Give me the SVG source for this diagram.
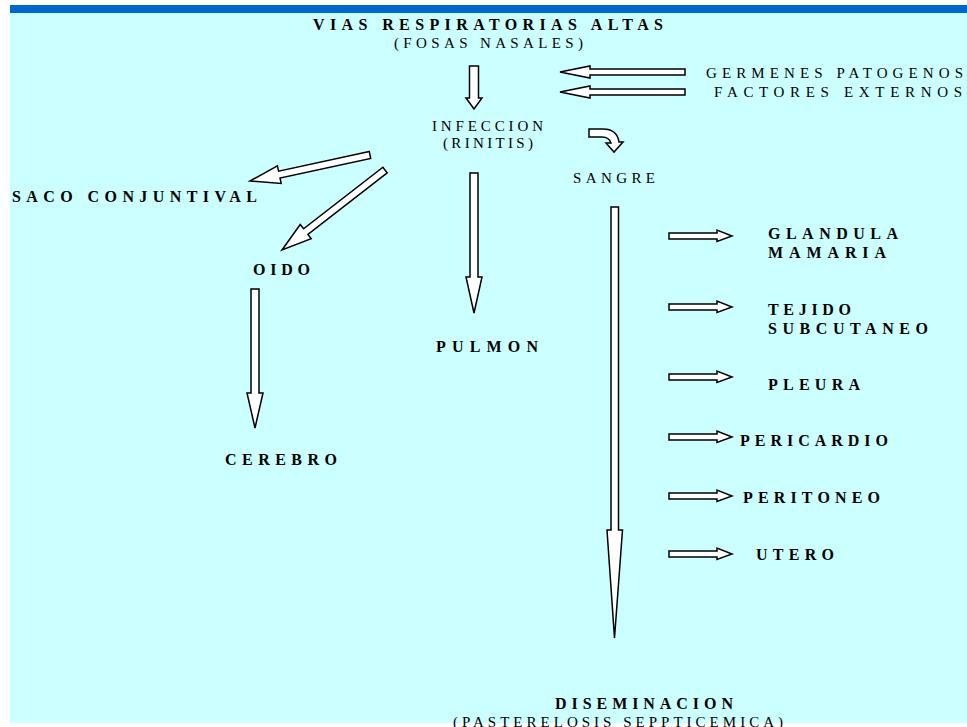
<svg xmlns="http://www.w3.org/2000/svg" width="967" height="727" viewBox="0 0 967 727">
<style>
.b{font-family:"Liberation Serif","Times New Roman",serif;font-weight:bold;font-size:16px;fill:#000}
.r{font-family:"Liberation Serif","Times New Roman",serif;font-size:15px;fill:#000}
.ar{fill:#fff;stroke:#000;stroke-width:1.5;stroke-linejoin:miter}
</style>
<rect x="0" y="0" width="967" height="727" fill="#fff"/>
<rect x="10" y="5" width="957" height="718" fill="#ccffff"/>
<rect x="10" y="5" width="957" height="8" fill="#0066cc"/>

<g id="vias">
<text class="b" x="313" y="30" textLength="350" lengthAdjust="spacing">VIAS RESPIRATORIAS ALTAS</text>
<text class="r" x="394" y="48" textLength="189" lengthAdjust="spacing">(FOSAS NASALES)</text>
</g>
<g id="germenes">
<text class="r" x="706" y="78" textLength="257" lengthAdjust="spacing">GERMENES PATOGENOS</text>
<text class="r" x="714" y="97" textLength="248" lengthAdjust="spacing">FACTORES EXTERNOS</text>
</g>
<g id="infeccion">
<text class="r" x="432" y="131" textLength="111" lengthAdjust="spacing">INFECCION</text>
<text class="r" x="443" y="148" textLength="90" lengthAdjust="spacing">(RINITIS)</text>
</g>
<g id="sangre"><text class="r" x="573" y="183" textLength="82" lengthAdjust="spacing">SANGRE</text></g>
<g id="saco"><text class="b" x="12" y="202" textLength="245" lengthAdjust="spacing">SACO CONJUNTIVAL</text></g>
<g id="oido"><text class="b" x="253" y="275" textLength="57" lengthAdjust="spacing">OIDO</text></g>
<g id="pulmon"><text class="b" x="436" y="352" textLength="102" lengthAdjust="spacing">PULMON</text></g>
<g id="cerebro"><text class="b" x="225" y="465" textLength="112" lengthAdjust="spacing">CEREBRO</text></g>
<g id="glandula">
<text class="b" x="768" y="239" textLength="130" lengthAdjust="spacing">GLANDULA</text>
<text class="b" x="768" y="258" textLength="118" lengthAdjust="spacing">MAMARIA</text>
</g>
<g id="tejido">
<text class="b" x="768" y="315" textLength="83" lengthAdjust="spacing">TEJIDO</text>
<text class="b" x="768" y="334" textLength="160" lengthAdjust="spacing">SUBCUTANEO</text>
</g>
<g id="pleura"><text class="b" x="768" y="390" textLength="92" lengthAdjust="spacing">PLEURA</text></g>
<g id="pericardio"><text class="b" x="740" y="446" textLength="148" lengthAdjust="spacing">PERICARDIO</text></g>
<g id="peritoneo"><text class="b" x="743" y="503" textLength="137" lengthAdjust="spacing">PERITONEO</text></g>
<g id="utero"><text class="b" x="756" y="560" textLength="78" lengthAdjust="spacing">UTERO</text></g>
<g id="diseminacion">
<text class="b" x="555" y="709" textLength="178" lengthAdjust="spacing">DISEMINACION</text>
<text class="r" x="453" y="727" textLength="330" lengthAdjust="spacing">(PASTERELOSIS SEPPTICEMICA)</text>
</g>

<g id="connectors">
<polygon class="ar" points="469.5,66 478.5,66 478.5,98 482,98 474,109 466,98 469.5,98"/>
<polygon class="ar" points="685,69 590,69 590,66 560,72 590,78 590,75 685,75"/>
<polygon class="ar" points="685,89 590,89 590,86 560,92 590,98 590,95 685,95"/>
<path class="ar" d="M589,129 L603,129 Q617,129 619,142 L623,142 L614,152 L606,143 L611,143 Q609,137 602,137 L589,137 Z"/>
<polygon class="ar" points="369.3,151.6 278.6,171.2 277.4,165.9 250,181 281.2,183.4 280,178.1 370.7,158.4"/>
<polygon class="ar" points="387.2,172.8 307.9,234.4 311.2,238.7 282,250 300.2,224.5 303.6,228.8 382.9,167.2"/>
<polygon class="ar" points="251,289 259,289 259,393 263,393 255,428 247,393 251,393"/>
<polygon class="ar" points="470,173 478,173 478,277 482,277 474,313 466,277 470,277"/>
<polygon class="ar" points="611,207 618.5,207 618.5,530 622.5,530 614.5,638 607,530 611,530"/>
<polygon class="ar" points="669,233 717,233 717,230 732,236 717,241.5 717,239 669,239"/>
<polygon class="ar" points="669,304 717,304 717,301 732,307 717,312.5 717,310 669,310"/>
<polygon class="ar" points="669,374 717,374 717,371 732,377 717,382.5 717,380 669,380"/>
<polygon class="ar" points="669,434 717,434 717,431 732,437 717,442.5 717,440 669,440"/>
<polygon class="ar" points="669,493 717,493 717,490 732,496 717,501.5 717,499 669,499"/>
<polygon class="ar" points="669,551 717,551 717,548 732,554 717,559.5 717,557 669,557"/>
</g>
</svg>
